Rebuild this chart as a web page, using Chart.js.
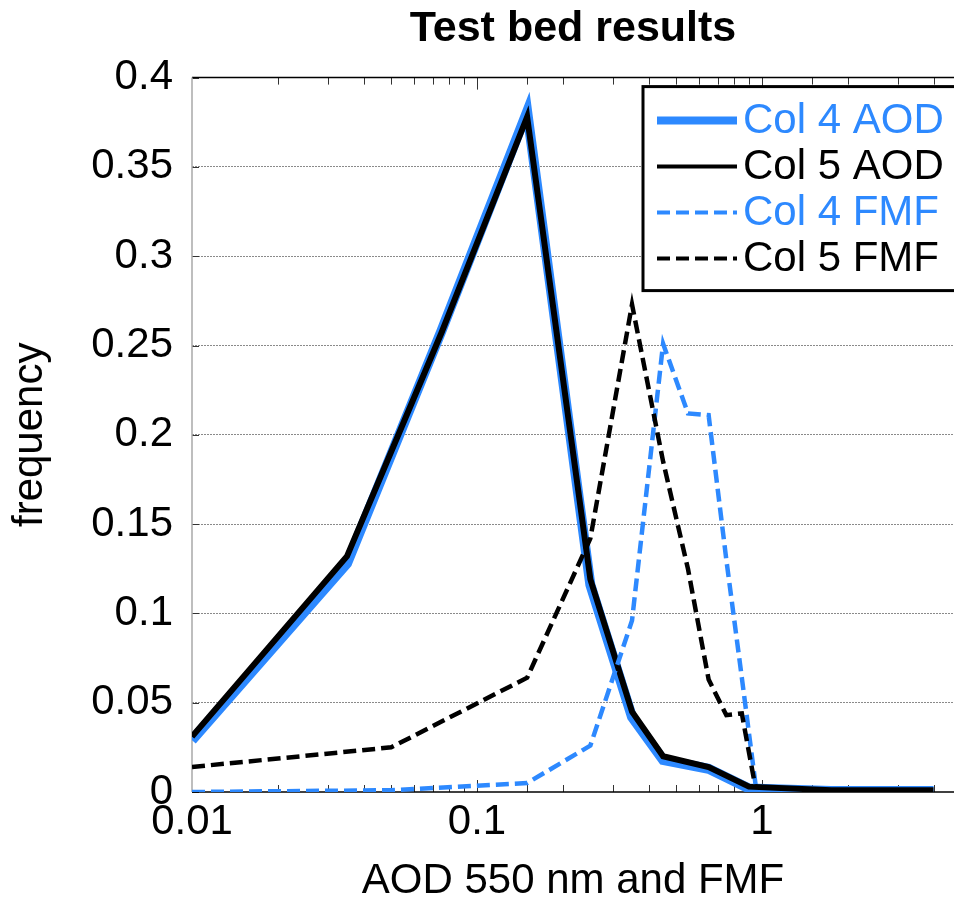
<!DOCTYPE html>
<html>
<head>
<meta charset="utf-8">
<script src="https://cdn.jsdelivr.net/npm/chart.js@4.4.1/dist/chart.umd.min.js"></script>
<style>
  html, body { margin: 0; padding: 0; background: #fff; overflow: hidden; }
  #wrap { width: 954px; height: 914px; }
</style>
</head>
<body>
<div id="wrap"><canvas id="chart"></canvas></div>
<script>
// bin centres (x) and frequencies
const aodBins = [0.01, 0.035, 0.075, 0.15, 0.25, 0.35, 0.45, 0.65, 0.9, 1.75, 4];
const col4Aod = [0.029, 0.128, 0.258, 0.381, 0.116, 0.042, 0.018, 0.013, 0.002, 0.0005, 0.0005];
const col5Aod = [0.031, 0.132, 0.257, 0.378, 0.119, 0.045, 0.020, 0.014, 0.003, 0.001, 0.001];
const fmfBins = [0.01, 0.05, 0.15, 0.25, 0.35, 0.45, 0.55, 0.65, 0.75, 0.85, 0.95];
const col4Fmf = [0.0, 0.001, 0.005, 0.026, 0.096, 0.251, 0.212, 0.211, 0.13, 0.064, 0.004];
const col5Fmf = [0.014, 0.025, 0.064, 0.142, 0.273, 0.185, 0.125, 0.063, 0.043, 0.044, 0.002];
const seriesLabels = ['Col 4 AOD', 'Col 5 AOD', 'Col 4 FMF', 'Col 5 FMF'];

const BLUE = '#2d89ff';
const FONT = '"Liberation Sans", Arial, Helvetica, sans-serif';
Chart.defaults.font.family = FONT;
Chart.defaults.color = '#000';

const toXY = (xs, ys) => xs.map((x, i) => ({ x, y: ys[i] }));
const isDecade = v => Math.abs(Math.log10(v) - Math.round(Math.log10(v))) < 1e-6;

function line(ctx, x1, y1, x2, y2) {
    ctx.beginPath();
    ctx.moveTo(x1, y1);
    ctx.lineTo(x2, y2);
    ctx.stroke();
}

// box frame + inward tick marks, drawn under the data
const framePlugin = {
    id: 'frame',
    beforeDatasetsDraw(chart) {
        const { ctx, chartArea: a, scales: { x, y } } = chart;
        ctx.save();
        ctx.strokeStyle = '#333';
        ctx.lineWidth = 1;
        x.ticks.forEach(t => {
            if (t.value >= x.max - 1e-9 || t.value <= x.min + 1e-9) return;
            const px = Math.round(x.getPixelForValue(t.value)) + 0.5;
            const len = isDecade(t.value) ? 12 : 7;
            line(ctx, px, a.bottom, px, a.bottom - len);
            line(ctx, px, a.top, px, a.top + len);
        });
        y.ticks.forEach(t => {
            const py = Math.round(y.getPixelForValue(t.value)) + 0.5;
            line(ctx, a.left, py, a.left + 7, py);
        });
        ctx.lineWidth = 1.5;
        ctx.strokeStyle = '#000';
        line(ctx, a.left, a.top, a.right + 2, a.top);
        line(ctx, a.left, a.bottom, a.right + 2, a.bottom);
        ctx.strokeStyle = '#a8a8a8';
        line(ctx, a.left, a.top, a.left, a.bottom);
        ctx.restore();
    }
};

// boxed legend in the upper right, text coloured like its line
const legendPlugin = {
    id: 'boxLegend',
    afterDraw(chart) {
        const { ctx, chartArea: a } = chart;
        const left = a.left + 451, top = a.top + 9, bottom = a.top + 213;
        ctx.save();
        ctx.fillStyle = '#fff';
        ctx.fillRect(left, top, chart.width - left + 10, bottom - top);
        ctx.strokeStyle = '#000';
        ctx.lineWidth = 3;
        ctx.strokeRect(left, top, chart.width - left + 10, bottom - top);
        ctx.font = '42px ' + FONT;
        ctx.textBaseline = 'middle';
        chart.data.datasets.forEach((ds, i) => {
            const yy = top + 34 + i * 46;
            ctx.strokeStyle = ds.borderColor;
            ctx.lineWidth = ds.legendWidth;
            ctx.setLineDash(ds.borderDash || []);
            line(ctx, left + 14, yy, left + 94, yy);
            ctx.setLineDash([]);
            ctx.fillStyle = ds.borderColor;
            ctx.fillText(ds.label, left + 100, yy + 1);
        });
        ctx.restore();
    }
};

new Chart(document.getElementById('chart'), {
    type: 'line',
    data: {
        datasets: [
            { label: seriesLabels[0], data: toXY(aodBins, col4Aod), borderColor: BLUE, borderWidth: 10, legendWidth: 8, order: 4 },
            { label: seriesLabels[1], data: toXY(aodBins, col5Aod), borderColor: '#000', borderWidth: 6, legendWidth: 4, order: 3 },
            { label: seriesLabels[2], data: toXY(fmfBins, col4Fmf), borderColor: BLUE, borderWidth: 4.5, legendWidth: 4, borderDash: [13, 6], order: 2 },
            { label: seriesLabels[3], data: toXY(fmfBins, col5Fmf), borderColor: '#000', borderWidth: 4.5, legendWidth: 4, borderDash: [13, 6], order: 1 }
        ]
    },
    options: {
        responsive: true,
        maintainAspectRatio: false,
        animation: false,
        layout: { padding: 0 },
        elements: {
            point: { radius: 0 },
            line: { tension: 0, fill: false }
        },
        plugins: {
            legend: { display: false },
            tooltip: { enabled: false },
            title: {
                display: true,
                text: 'Test bed results',
                fullSize: false,
                color: '#000',
                font: { size: 43, weight: 'bold' },
                padding: { top: 3, bottom: 23 }
            }
        },
        scales: {
            x: {
                type: 'logarithmic',
                min: 0.01,
                max: 4.72,
                grid: { display: false },
                border: { display: false },
                ticks: {
                    autoSkip: false,
                    maxRotation: 0,
                    padding: -3,
                    color: '#000',
                    font: { size: 42 },
                    callback: v => isDecade(v) ? String(+Number(v).toPrecision(1)) : ''
                },
                title: {
                    display: true,
                    text: 'AOD 550 nm and FMF',
                    color: '#000',
                    font: { size: 42 },
                    padding: { top: 0, bottom: 7 }
                },
                afterFit: s => {
                    s.height = 122;
                    s.paddingLeft = 0;
                    s.paddingRight = 0;
                }
            },
            y: {
                min: 0,
                max: 0.4,
                ticks: {
                    stepSize: 0.05,
                    padding: 19,
                    color: '#000',
                    font: { size: 42 },
                    callback: v => String(+Number(v).toFixed(2))
                },
                grid: {
                    drawTicks: false,
                    lineWidth: 1,
                    color: c => (c.tick && (c.tick.value < 1e-9 || c.tick.value > 0.4 - 1e-9)) ? 'rgba(0,0,0,0)' : '#8a8a8a'
                },
                border: { display: false, dash: [2, 1] },
                title: {
                    display: true,
                    text: 'frequency',
                    color: '#000',
                    font: { size: 42 },
                    padding: { top: 5 }
                },
                afterFit: s => { s.width = 192; }
            }
        }
    },
    plugins: [framePlugin, legendPlugin]
});
</script>
</body>
</html>
